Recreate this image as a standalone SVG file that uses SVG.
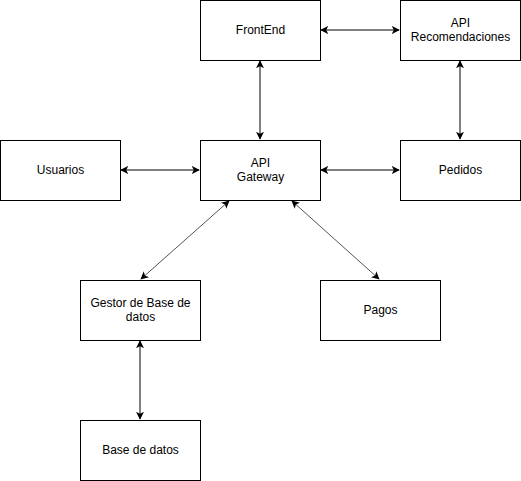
<svg xmlns="http://www.w3.org/2000/svg" width="521" height="481" viewBox="0 0 521 481">
<style>
.box{fill:#fff;stroke:#000;stroke-width:1}
.lbl{font-family:"Liberation Sans",Arial,sans-serif;font-size:12px;fill:#000;text-anchor:middle}
.edge{stroke:#000;stroke-width:1;fill:none;marker-start:url(#ah);marker-end:url(#ah)}
.diag{stroke:#555}
</style>
<defs>
<marker id="ah" viewBox="0 0 10 10" refX="9" refY="5" markerWidth="8" markerHeight="8" markerUnits="userSpaceOnUse" orient="auto-start-reverse">
<path d="M0,0 L10,5 L0,10 L2.5,5 Z" fill="#000"/>
</marker>
</defs>
<rect width="521" height="481" fill="#fff"/>
<g id="connectors">
<line class="edge" x1="321" y1="30" x2="399" y2="30"/>
<line class="edge" x1="260" y1="61" x2="260" y2="139"/>
<line class="edge" x1="460" y1="61" x2="460" y2="139"/>
<line class="edge" x1="121" y1="170" x2="199" y2="170"/>
<line class="edge" x1="321" y1="170" x2="399" y2="170"/>
<line class="edge diag" x1="229" y1="201" x2="141" y2="279"/>
<line class="edge diag" x1="292" y1="201" x2="379" y2="279"/>
<line class="edge" x1="140" y1="341" x2="140" y2="419"/>
</g>
<g id="frontend"><rect class="box" x="200.5" y="0.5" width="120" height="60"/><text class="lbl" x="260.5" y="34">FrontEnd</text></g>
<g id="api-recomendaciones"><rect class="box" x="400.5" y="0.5" width="120" height="60"/><text class="lbl" x="460.5" y="26.5">API</text><text class="lbl" x="460.5" y="41">Recomendaciones</text></g>
<g id="usuarios"><rect class="box" x="0.5" y="140.5" width="120" height="60"/><text class="lbl" x="60.5" y="174">Usuarios</text></g>
<g id="api-gateway"><rect class="box" x="200.5" y="140.5" width="120" height="60"/><text class="lbl" x="260.5" y="166.5">API</text><text class="lbl" x="260.5" y="181">Gateway</text></g>
<g id="pedidos"><rect class="box" x="400.5" y="140.5" width="120" height="60"/><text class="lbl" x="460.5" y="174">Pedidos</text></g>
<g id="gestor"><rect class="box" x="80.5" y="280.5" width="120" height="60"/><text class="lbl" x="140.5" y="306.5">Gestor de Base de</text><text class="lbl" x="140.5" y="321">datos</text></g>
<g id="pagos"><rect class="box" x="320.5" y="280.5" width="120" height="60"/><text class="lbl" x="380.5" y="314">Pagos</text></g>
<g id="base-datos"><rect class="box" x="80.5" y="420.5" width="120" height="60"/><text class="lbl" x="140.5" y="454">Base de datos</text></g>
</svg>
